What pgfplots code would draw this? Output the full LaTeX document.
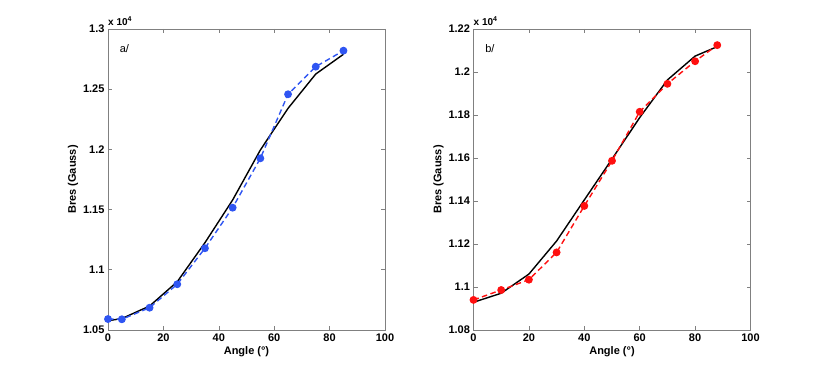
\documentclass[border=0pt]{standalone}
\usepackage{pgfplots}
\pgfplotsset{compat=1.18}
\usepackage{fontspec}
\setmainfont{Liberation Sans}
\definecolor{axgray}{HTML}{808080}
\definecolor{mblue}{HTML}{2F55F2}
\definecolor{mred}{HTML}{FF1010}

\pgfplotsset{
  matstyle/.style={
    scale only axis,
    width=277pt, height=301pt,
    anchor=south west,
    xmin=0, xmax=100,
    xtick={0,20,...,100},
    axis line style={axgray, line width=0.8pt},
    tick style={axgray, line width=0.6pt},
    tick align=inside,
    major tick length=4pt,
    ticklabel style={font=\fontsize{11}{13}\selectfont\bfseries, text=black},
    /pgf/number format/assume math mode=true,
    scaled ticks=false,
    xlabel={Angle (°)},
    ylabel={Bres (Gauss)},
    label style={font=\fontsize{11}{13}\selectfont\bfseries},
    xlabel style={yshift=2pt},
    ylabel style={yshift=-2pt},
    clip=false,
  },
  fitline/.style={black, line width=1.4pt, no marks},
  datline/.style={dashed, dash pattern=on 5.5pt off 3.5pt, line width=1.4pt, mark=*, mark size=3.2pt, mark options={solid}},
}

\begin{document}
\begin{tikzpicture}
\path (0pt,0pt) rectangle (830pt,372pt);

\begin{axis}[matstyle,
  at={(108pt,42pt)},
  ymin=1.05, ymax=1.3,
  ytick={1.05,1.1,1.15,1.2,1.25,1.3},
  yticklabels={1.05,1.1,1.15,1.2,1.25,1.3},
]
\addplot[fitline] coordinates {
  (0,1.0577) (5,1.0595) (15,1.0699) (25,1.0901) (35,1.1225)
  (45,1.1580) (55,1.1995) (65,1.2341) (75,1.2626) (85,1.2790)
};
\addplot[datline, mblue, mark options={solid, fill=mblue, draw=mblue}] coordinates {
  (0,1.0591) (5,1.0589) (15,1.0685) (25,1.0880) (35,1.1179)
  (45,1.1516) (55,1.1926) (65,1.2458) (75,1.2687) (85,1.2820)
};
\node[anchor=north west, font=\fontsize{11}{13}\selectfont] at (rel axis cs:0.03,0.96) {a/};
\node[anchor=south west, inner sep=0pt, font=\fontsize{10}{12}\selectfont\bfseries] at (rel axis cs:0,1.012) {x 10\textsuperscript{4}};
\end{axis}

\begin{axis}[matstyle,
  at={(473.5pt,42pt)},
  ymin=1.08, ymax=1.22,
  ytick={1.08,1.1,1.12,1.14,1.16,1.18,1.2,1.22},
  yticklabels={1.08,1.1,1.12,1.14,1.16,1.18,1.2,1.22},
]
\addplot[fitline] coordinates {
  (0,1.0929) (10,1.0971) (20,1.1060) (30,1.1214) (40,1.1405)
  (50,1.1595) (60,1.1788) (70,1.1963) (80,1.2074) (88,1.2118)
};
\addplot[datline, mred, mark options={solid, fill=mred, draw=mred}] coordinates {
  (0,1.0940) (10,1.0986) (20,1.1034) (30,1.1161) (40,1.1377)
  (50,1.1587) (60,1.1815) (70,1.1945) (80,1.2050) (88,1.2125)
};
\node[anchor=north west, font=\fontsize{11}{13}\selectfont] at (rel axis cs:0.03,0.96) {b/};
\node[anchor=south west, inner sep=0pt, font=\fontsize{10}{12}\selectfont\bfseries] at (rel axis cs:0,1.012) {x 10\textsuperscript{4}};
\end{axis}
\end{tikzpicture}
\end{document}
